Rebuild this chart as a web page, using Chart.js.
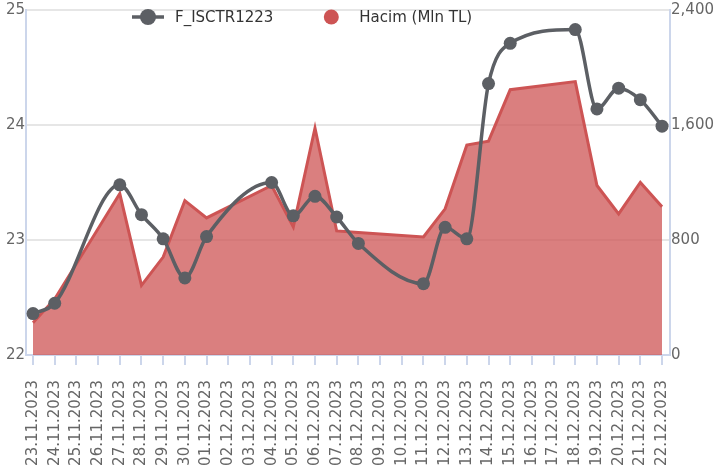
<!DOCTYPE html>
<html>
<head>
<meta charset="utf-8">
<script src="https://cdn.jsdelivr.net/npm/chart.js@4.4.1/dist/chart.umd.min.js"></script>
<style>
  body { margin: 0; background: #fff; }
  canvas { display: block; }
</style>
</head>
<body>
<canvas id="chart" width="717" height="470"></canvas>
<script>
const dates = [
  '23.11.2023', '24.11.2023', '25.11.2023', '26.11.2023', '27.11.2023', '28.11.2023',
  '29.11.2023', '30.11.2023', '01.12.2023', '02.12.2023', '03.12.2023', '04.12.2023',
  '05.12.2023', '06.12.2023', '07.12.2023', '08.12.2023', '09.12.2023', '10.12.2023',
  '11.12.2023', '12.12.2023', '13.12.2023', '14.12.2023', '15.12.2023', '16.12.2023',
  '17.12.2023', '18.12.2023', '19.12.2023', '20.12.2023', '21.12.2023', '22.12.2023'
]

// weekend days have no trading -> null
const price = [
  22.36, 22.45, null, null, 23.48, 23.22, 23.01, 22.67, 23.03, null, null, 23.50,
  23.21, 23.38, 23.20, 22.97, null, null, 22.62, 23.11, 23.01, 24.36, 24.71, null,
  null, 24.83, 24.14, 24.32, 24.22, 23.99
]

const volume = [
  225, 390, null, null, 1123, 484, 681, 1074, 954, null, null, 1179,
  891, 1579, 863, 853, null, null, 821, 1017, 1460, 1488, 1846, null,
  null, 1902, 1179, 982, 1200, 1032
]

const leftTicks = [22, 23, 24, 25]
const rightTicks = [0, 800, 1600, 2400]

const priceName = 'F_ISCTR1223'
const volumeName = 'Hacim (Mln TL)'

const gray = '#5c5f64'
const red = '#cd5454'
const redFill = 'rgba(205, 84, 84, 0.75)'
const axisBlue = '#ccd6eb'
const font = 'DejaVu Sans'

const toPoints = arr => arr.map((v, i) => ({ x: i, y: v }))

const legendPlugin = {
  id: 'topLegend',
  afterDraw(chart) {
    const ctx = chart.ctx
    const y = chart.chartArea.top + 7
    ctx.save()
    ctx.font = '15px "' + font + '"'
    ctx.textBaseline = 'middle'

    let x = 132
    ctx.strokeStyle = gray
    ctx.lineWidth = 3.5
    ctx.beginPath()
    ctx.moveTo(x, y)
    ctx.lineTo(x + 32, y)
    ctx.stroke()
    ctx.fillStyle = gray
    ctx.beginPath()
    ctx.arc(x + 16, y, 8, 0, Math.PI * 2)
    ctx.fill()
    x += 43
    ctx.fillStyle = '#333'
    ctx.fillText(priceName, x, y + 1)
    x += ctx.measureText(priceName).width + 42

    ctx.fillStyle = red
    ctx.beginPath()
    ctx.arc(x + 16, y, 7.5, 0, Math.PI * 2)
    ctx.fill()
    x += 44
    ctx.fillStyle = '#333'
    ctx.fillText(volumeName, x, y + 1)
    ctx.restore()
  }
}

new Chart(document.getElementById('chart'), {
  type: 'line',
  data: {
    datasets: [
      {
        label: priceName,
        data: toPoints(price),
        yAxisID: 'y',
        borderColor: gray,
        backgroundColor: gray,
        borderWidth: 3.5,
        pointRadius: 6.5,
        pointBorderWidth: 0,
        pointBackgroundColor: gray,
        cubicInterpolationMode: 'monotone',
        spanGaps: true,
        fill: false
      },
      {
        label: volumeName,
        data: toPoints(volume),
        yAxisID: 'y1',
        borderColor: red,
        backgroundColor: redFill,
        borderWidth: 3,
        pointRadius: 0,
        tension: 0,
        spanGaps: true,
        fill: 'start'
      }
    ]
  },
  options: {
    responsive: false,
    animation: false,
    events: [],
    layout: { padding: { left: 5, right: 2, top: 4, bottom: 0 } },
    plugins: {
      legend: { display: false },
      tooltip: { enabled: false }
    },
    scales: {
      x: {
        type: 'linear',
        min: -0.32,
        max: dates.length - 1 + 0.37,
        afterBuildTicks: scale => {
          scale.ticks = dates.map((d, i) => ({ value: i }))
        },
        afterFit: scale => {
          scale.height = 115
        },
        border: { color: axisBlue, width: 2 },
        grid: {
          drawOnChartArea: false,
          color: axisBlue,
          lineWidth: 2,
          tickLength: 10
        },
        ticks: {
          autoSkip: false,
          minRotation: 90,
          maxRotation: 90,
          padding: 15,
          color: '#666',
          font: { family: font, size: 15 },
          callback: value => dates[value]
        }
      },
      y: {
        position: 'left',
        min: leftTicks[0],
        max: leftTicks[leftTicks.length - 1],
        afterBuildTicks: scale => {
          scale.ticks = leftTicks.map(v => ({ value: v }))
        },
        border: { color: axisBlue, width: 2 },
        grid: { color: '#e6e6e6', lineWidth: 2, drawTicks: false },
        ticks: {
          padding: 1,
          color: '#666',
          font: { family: font, size: 15 }
        }
      },
      y1: {
        position: 'right',
        min: rightTicks[0],
        max: rightTicks[rightTicks.length - 1],
        afterBuildTicks: scale => {
          scale.ticks = rightTicks.map(v => ({ value: v }))
        },
        border: { color: axisBlue, width: 2 },
        grid: { drawOnChartArea: false, drawTicks: false },
        ticks: {
          padding: 1,
          color: '#666',
          font: { family: font, size: 15 },
          callback: v => v.toLocaleString('en-US')
        }
      }
    }
  },
  plugins: [legendPlugin]
})
</script>
</body>
</html>
